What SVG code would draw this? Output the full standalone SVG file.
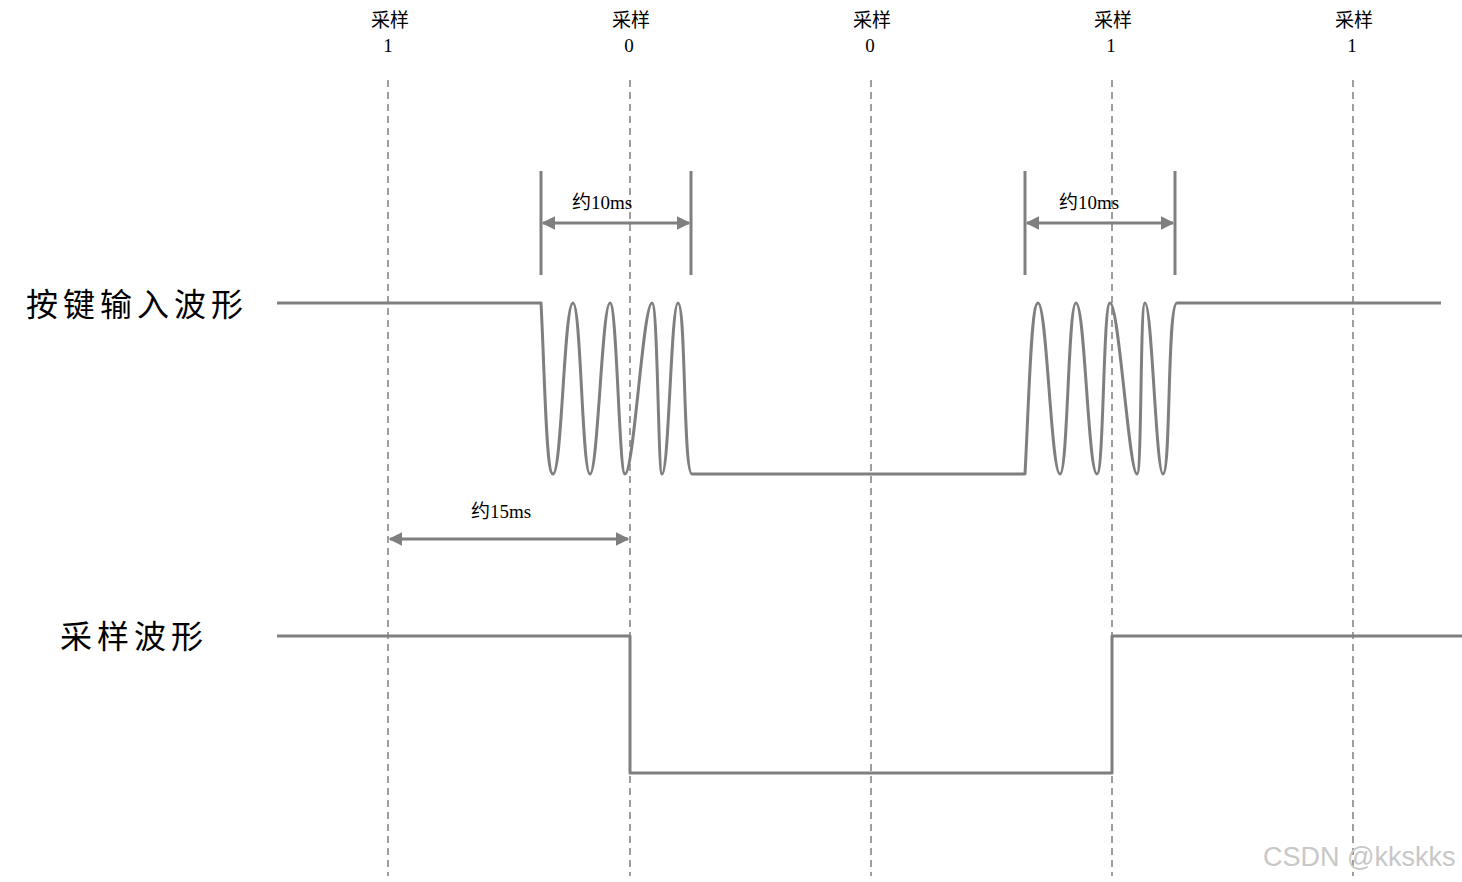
<svg xmlns="http://www.w3.org/2000/svg" width="1462" height="882" viewBox="0 0 1462 882">
<defs>
<marker id="ah" viewBox="0 0 10 10" refX="9" refY="5" markerWidth="4.5" markerHeight="4.5" orient="auto-start-reverse" markerUnits="strokeWidth">
<path d="M0,0 L10,5 L0,10 z" fill="#7f7f7f"/>
</marker>
<style>
.grid{stroke:#7f7f7f;stroke-width:1.5;stroke-dasharray:7,5;fill:none}
.wave{stroke:#7f7f7f;stroke-width:3;fill:none;stroke-linejoin:round}
.dim{stroke:#7f7f7f;stroke-width:3;fill:none}
.arr{stroke:#7f7f7f;stroke-width:3;fill:none;marker-start:url(#ah);marker-end:url(#ah)}
.t{font-family:"Liberation Serif","Noto Sans CJK SC",serif;fill:#000;text-anchor:middle}
.s{font-size:19px}
.big{font-size:32px;letter-spacing:5px;text-anchor:start}
.wm{font-family:"Liberation Sans",Arial,sans-serif;font-size:27px;fill:#c8c8c8}
</style>
</defs>
<rect width="1462" height="882" fill="#fff"/>
<g id="sample-lines">
<line class="grid" x1="388" y1="80" x2="388" y2="876"/>
<line class="grid" x1="630" y1="80" x2="630" y2="876"/>
<line class="grid" x1="871" y1="80" x2="871" y2="876"/>
<line class="grid" x1="1112" y1="80" x2="1112" y2="876"/>
<line class="grid" x1="1353" y1="80" x2="1353" y2="876"/>
</g>
<g id="sample-labels">
<text class="t s" x="390" y="27">采样</text><text class="t s" x="388" y="52">1</text>
<text class="t s" x="631" y="27">采样</text><text class="t s" x="629" y="52">0</text>
<text class="t s" x="872" y="27">采样</text><text class="t s" x="870" y="52">0</text>
<text class="t s" x="1113" y="27">采样</text><text class="t s" x="1111" y="52">1</text>
<text class="t s" x="1354" y="27">采样</text><text class="t s" x="1352" y="52">1</text>
</g>
<g id="label-input"><text class="t big" x="26" y="316">按键输入波形</text></g>
<g id="label-sample"><text class="t big" x="60" y="648">采样波形</text></g>
<g id="input-wave">
<path class="wave" d="M277,303 L541,303 C545,380 546,474 553,474 C562,474 564,303 573,303 C581,303 582,474 590,474 C598,474 602,303 610,303 C617,303 619,474 625,474 C634,474 643,303 652,303 C658,303 658,474 662,474 C669,474 671,303 678,303 C686,303 683,474 692,474 L1025,474 C1029,400 1031,303 1038,303 C1047,303 1051,474 1060,474 C1068,474 1068,303 1076,303 C1085,303 1088,474 1097,474 C1104,474 1103,303 1110,303 C1119,303 1129,474 1137,474 C1142,474 1140,303 1145,303 C1152,303 1156,474 1163,474 C1171,474 1167,303 1177,303 L1441,303"/>
</g>
<g id="sample-wave">
<path class="wave" d="M277,636 L630,636 L630,773 L1112,773 L1112,636 L1462,636"/>
</g>
<g id="connectors">
<line class="dim" x1="541" y1="171" x2="541" y2="275"/>
<line class="dim" x1="691" y1="171" x2="691" y2="275"/>
<line class="arr" x1="543" y1="223" x2="689" y2="223"/>
<line class="dim" x1="1025" y1="171" x2="1025" y2="275"/>
<line class="dim" x1="1175" y1="171" x2="1175" y2="275"/>
<line class="arr" x1="1027" y1="223" x2="1173" y2="223"/>
<line class="arr" x1="390" y1="539" x2="628" y2="539"/>
</g>
<g id="dim-labels">
<text class="t s" x="602" y="209">约10ms</text>
<text class="t s" x="1089" y="209">约10ms</text>
<text class="t s" x="501" y="518">约15ms</text>
</g>
<text class="wm" x="1263" y="866">CSDN @kkskks</text>
</svg>
